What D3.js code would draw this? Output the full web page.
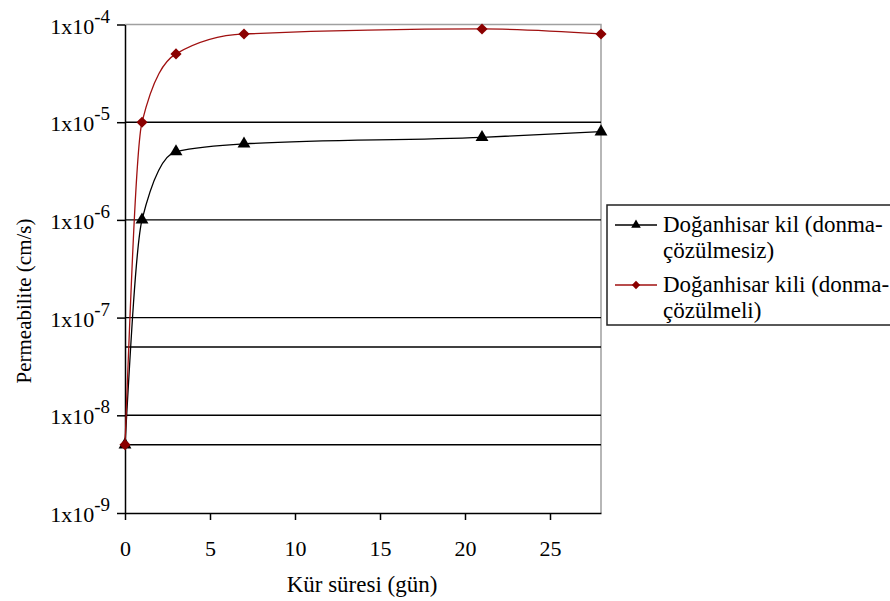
<!DOCTYPE html>
<html>
<head>
<meta charset="utf-8">
<script src="https://cdn.jsdelivr.net/npm/d3@7"></script>
<style>
  body { margin: 0; background: #fff; }
  svg text { font-family: "Times New Roman", "Liberation Serif", "Tinos", "DejaVu Serif", serif; fill: #000; }
</style>
</head>
<body>
<div id="chart"></div>
<script>
// data
const days = [0, 1, 3, 7, 21, 28];
const withoutFreeze = [5e-9, 1e-6, 5e-6, 6e-6, 7e-6, 8e-6];
const withFreeze = [5e-9, 1e-5, 5e-5, 8e-5, 9e-5, 8e-5];
const seriesNames = ["Doğanhisar kil (donma-|çözülmesiz)", "Doğanhisar kili (donma-|çözülmeli)"];
const yTickExp = [-9, -8, -7, -6, -5, -4];
const xTicks = [0, 5, 10, 15, 20, 25];
const gridValues = [1e-5, 1e-6, 1e-7, 5e-8, 1e-8, 5e-9];

const SERIF = '"Times New Roman", "Liberation Serif", "Tinos", "DejaVu Serif", serif';

const W = 890, H = 601;
const margin = {top: 24.5, right: 289, bottom: 88, left: 125},
      width = W - margin.left - margin.right,
      height = H - margin.top - margin.bottom;

const svg = d3.select("#chart")
              .append("svg")
              .attr("width", W)
              .attr("height", H)
              .attr("font-family", SERIF);

const g = svg.append("g")
             .attr("transform", `translate(${margin.left},${margin.top})`);

const x = d3.scaleLinear().domain([0, 28]).range([0, width]);
const y = d3.scaleLog().domain([1e-9, 1e-4]).range([height, 0]);

// frame (top + right in grey)
g.append("path")
 .attr("d", `M0,0H${width}V${height}`)
 .attr("fill", "none")
 .attr("stroke", "#a0a0a0")
 .attr("stroke-width", 1.5);

// grid lines
g.selectAll(".grid")
 .data(gridValues)
 .enter()
 .append("line")
 .attr("x1", 0)
 .attr("x2", width)
 .attr("y1", d => y(d))
 .attr("y2", d => y(d))
 .attr("stroke", "#000")
 .attr("stroke-width", 1.4);

// y axis
const yAxis = g.append("g")
  .call(d3.axisLeft(y)
          .tickValues(yTickExp.map(e => Math.pow(10, e)))
          .tickSize(8)
          .tickSizeOuter(0)
          .tickFormat(""));
yAxis.selectAll("line, path").attr("stroke", "#000").attr("stroke-width", 1.5);

const yLab = g.selectAll(".ylab")
  .data(yTickExp)
  .enter()
  .append("text")
  .attr("x", -15)
  .attr("y", e => y(Math.pow(10, e)) + 9)
  .attr("text-anchor", "end")
  .style("font-size", "22px");
yLab.append("tspan").text("1x10");
yLab.append("tspan")
    .attr("dy", -11)
    .style("font-size", "19px")
    .text(e => `${e}`);

// x axis
const xAxis = g.append("g")
  .attr("transform", `translate(0,${height})`)
  .call(d3.axisBottom(x)
          .tickValues(xTicks)
          .tickSize(7)
          .tickSizeOuter(0));
xAxis.attr("font-family", SERIF);
xAxis.selectAll("line, path").attr("stroke", "#000").attr("stroke-width", 1.5);
xAxis.selectAll("text")
     .attr("y", 43)
     .attr("dy", 0)
     .attr("fill", "#000")
     .style("font-size", "22px");

// axis titles
g.append("text")
 .attr("x", 237)
 .attr("y", height + 79)
 .attr("text-anchor", "middle")
 .style("font-size", "23px")
 .text("Kür süresi (gün)");

svg.append("text")
   .attr("transform", "translate(31,301) rotate(-90)")
   .attr("text-anchor", "middle")
   .style("font-size", "21px")
   .text("Permeabilite (cm/s)");

// lines
const line = d3.line()
               .x(d => x(d[0]))
               .y(d => y(d[1]))
               .curve(d3.curveMonotoneX);

const diamond = d3.symbol().type(d3.symbolSquare).size(62);
const series = [
  {name: seriesNames[0], vals: withoutFreeze, color: "#000", fill: "#000", sym: d3.symbol().type(d3.symbolTriangle).size(72), rot: 0},
  {name: seriesNames[1], vals: withFreeze, color: "#a01010", fill: "#8b0000", sym: diamond, rot: 45}
];

series.forEach(s => {
  const pts = days.map((d, i) => [d, s.vals[i]]);
  g.append("path")
   .datum(pts)
   .attr("fill", "none")
   .attr("stroke", s.color)
   .attr("stroke-width", 1.3)
   .attr("d", line);
  g.selectAll(null)
   .data(pts)
   .enter()
   .append("path")
   .attr("transform", d => `translate(${x(d[0])},${y(d[1])}) rotate(${s.rot})`)
   .attr("d", s.sym)
   .attr("fill", s.fill);
});

// legend
const lg = svg.append("g").attr("transform", "translate(607,205)");
lg.append("rect")
  .attr("width", 290)
  .attr("height", 120)
  .attr("fill", "#fff")
  .attr("stroke", "#222")
  .attr("stroke-width", 1.5);

series.forEach((s, i) => {
  const yy = 20 + i * 60;
  lg.append("line")
    .attr("x1", 8).attr("x2", 50)
    .attr("y1", yy).attr("y2", yy)
    .attr("stroke", s.color)
    .attr("stroke-width", 1.3);
  lg.append("path")
    .attr("transform", `translate(29,${yy}) rotate(${s.rot}) scale(0.75)`)
    .attr("d", s.sym)
    .attr("fill", s.fill);
  s.name.split("|").forEach((t, j) => {
    lg.append("text")
      .attr("x", 56)
      .attr("y", yy + 7 + j * 26)
      .style("font-size", "23px")
      .text(t);
  });
});
</script>
</body>
</html>
